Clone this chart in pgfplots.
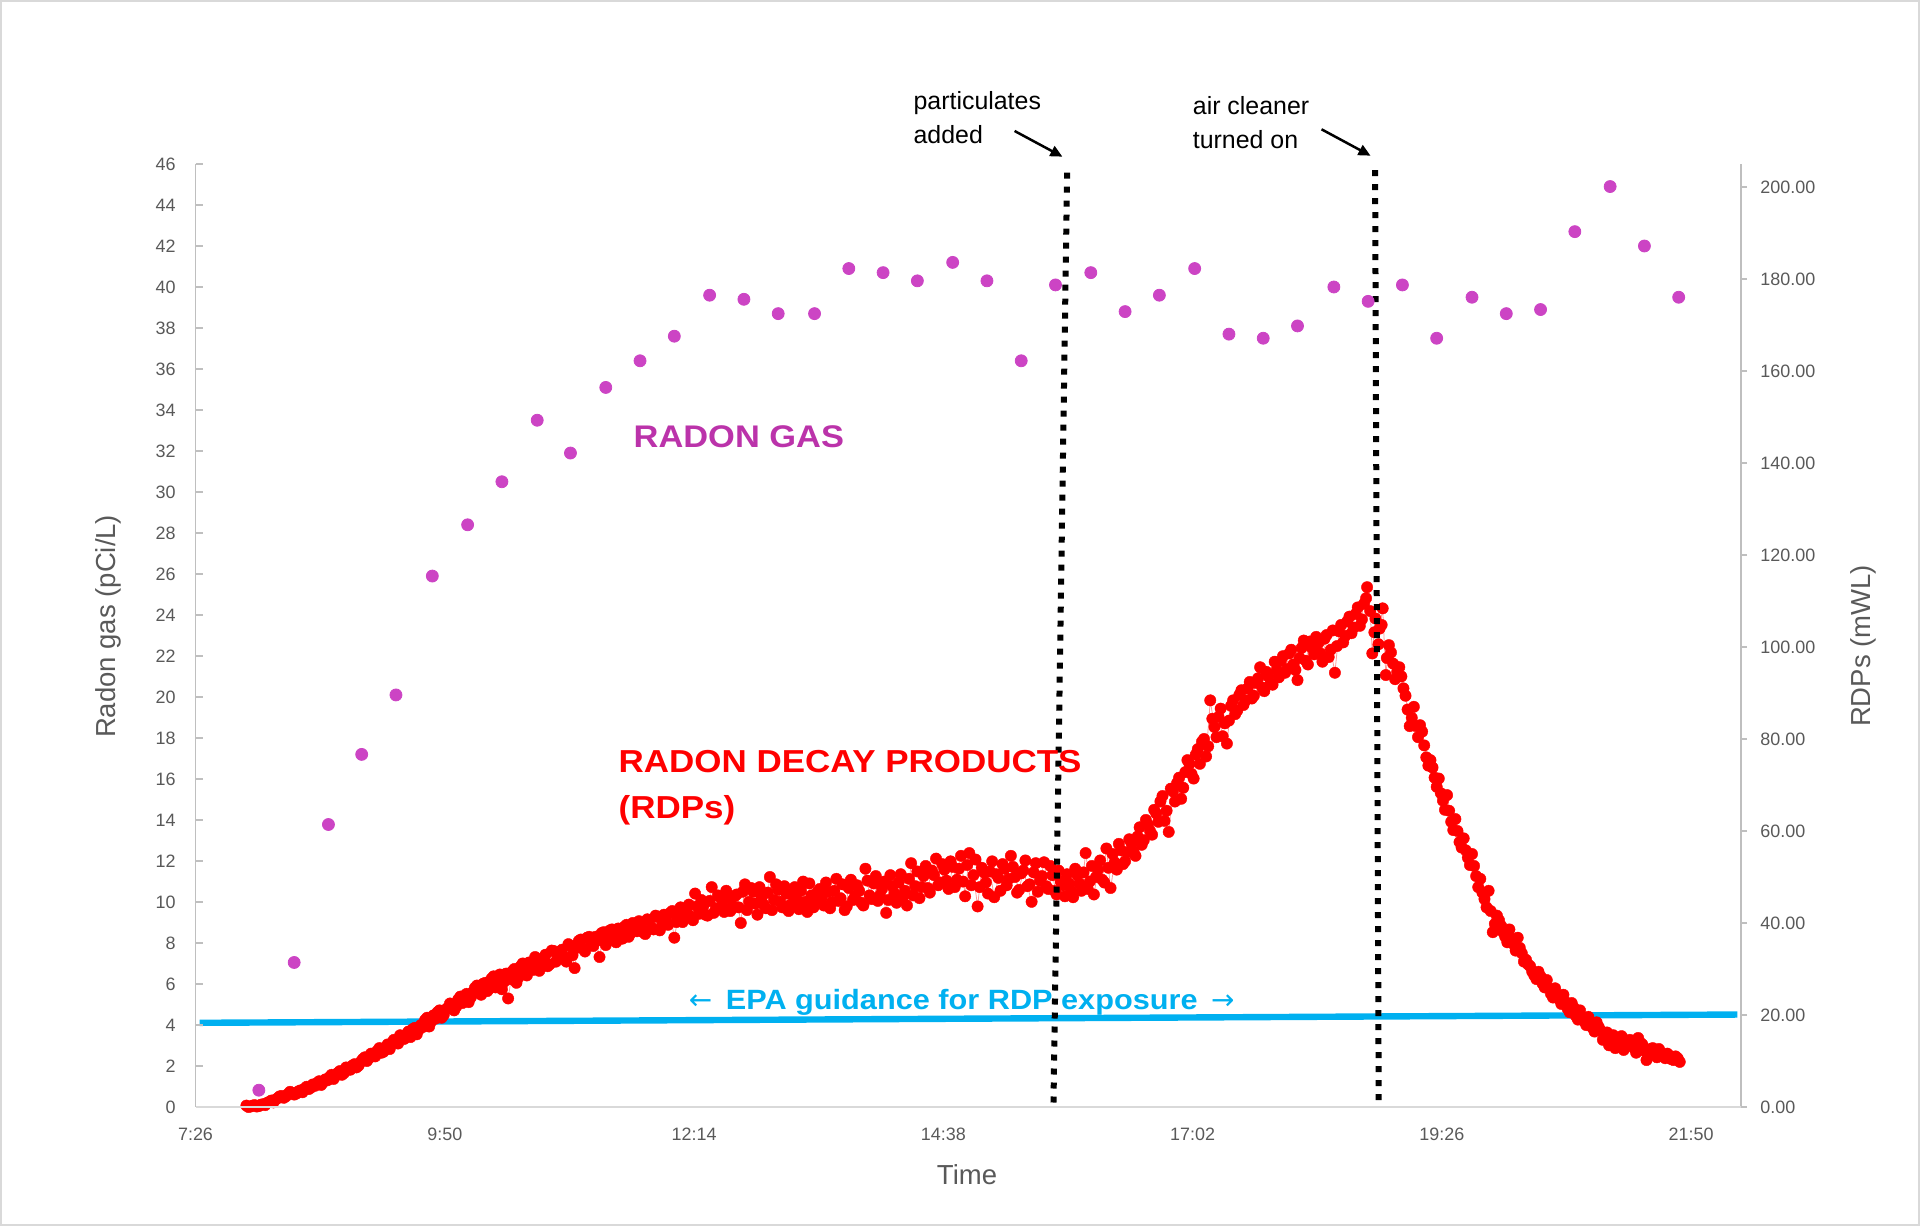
\documentclass[border=0pt]{standalone}
\usepackage{pgfplots}
\pgfplotsset{compat=1.18}
\usepackage{fontspec}
\setmainfont{Liberation Sans}
\newfontfamily\widefont[FakeStretch=1.1]{Liberation Sans}
\newfontfamily\arrowfont{DejaVu Sans}
\usetikzlibrary{arrows.meta}
\definecolor{labelgray}{HTML}{595959}
\definecolor{axgray}{HTML}{BFBFBF}
\definecolor{axgrayl}{HTML}{D9D9D9}
\definecolor{radon}{RGB}{204,68,196}
\definecolor{radontxt}{RGB}{187,51,170}
\definecolor{epa}{HTML}{00B0F0}
\definecolor{rdpline}{HTML}{FF9A9A}
\begin{document}
\begin{tikzpicture}
\useasboundingbox (0bp,0bp) rectangle (960bp,613bp);
\draw[axgrayl, line width=0.75bp] (0.5bp,0.5bp) rectangle (959.5bp,612.5bp);

\begin{axis}[name=rdp, at={(97.75bp,59.5bp)}, anchor=south west, scale only axis,
  width=772.75bp, height=471.5bp,
  xmin=7.44, xmax=22.32, ymin=0, ymax=205,
  axis x line=none, axis y line*=right,
  ytick={0,20,40,60,80,100,120,140,160,180,200},
  tick align=outside, major tick length=3bp,
  ytick style={draw=axgray, line width=0.75bp},
  y axis line style={draw=axgray, line width=0.75bp},
  /pgf/number format/assume math mode=true,
  yticklabel style={font=\fontsize{9}{10}\selectfont, color=labelgray, inner sep=0pt, xshift=6.5bp,
    /pgf/number format/fixed, /pgf/number format/fixed zerofill, /pgf/number format/precision=2},
]
% RDP readings, connected series
\addplot[color=rdpline, line width=0.4bp, mark=*, mark size=2.85bp,
  mark options={fill=red, draw=red, line width=0.2bp}] coordinates {
(7.93,0.3)(7.97,0.1)(8.01,0.4)(8.05,0.2)(8.09,0.6)(8.13,0.9)(8.17,1.4)(8.21,1.6)(8.25,2.3)(8.29,2.0)
(8.33,2.8)(8.37,3.1)(8.41,2.9)(8.45,3.6)(8.49,4.0)(8.53,3.9)(8.57,4.9)(8.61,5.2)(8.65,4.8)(8.69,6.0)
(8.73,6.5)(8.77,6.1)(8.81,7.4)(8.85,7.0)(8.89,8.6)(8.93,8.1)(8.97,9.3)(9.01,9.0)(9.05,10.4)(9.09,10.0)
(9.13,11.6)(9.17,11.0)(9.21,12.8)(9.25,12.0)(9.29,13.6)(9.33,13.9)(9.37,14.2)(9.41,15.6)(9.45,14.8)(9.49,16.4)
(9.53,16.9)(9.57,15.8)(9.61,17.8)(9.65,18.9)(9.69,17.5)(9.73,19.9)(9.77,20.6)(9.81,19.4)(9.85,21.2)(9.89,22.5)
(9.93,21.0)(9.97,23.4)(10.01,22.6)(10.05,24.6)(10.09,23.8)(10.13,25.9)(10.17,24.8)(10.21,26.8)(10.25,25.2)(10.29,27.9)
(10.33,26.0)(10.37,28.8)(10.41,27.2)(10.45,23.6)(10.49,29.5)(10.53,27.0)(10.57,30.6)(10.61,29.0)(10.65,31.4)(10.69,29.8)
(10.73,32.0)(10.77,30.6)(10.81,33.1)(10.85,31.0)(10.89,33.9)(10.93,32.4)(10.97,34.2)(11.01,31.6)(11.05,35.0)(11.09,30.2)
(11.13,36.1)(11.17,34.5)(11.21,36.8)(11.25,35.4)(11.29,37.0)(11.33,32.6)(11.37,38.0)(11.41,36.4)(11.45,38.6)(11.49,35.8)
(11.53,37.4)(11.57,39.2)(11.61,37.0)(11.65,40.0)(11.69,38.2)(11.73,39.8)(11.77,37.6)(11.81,40.5)(11.85,38.6)(11.89,41.3)
(11.93,39.4)(11.97,40.8)(12.01,42.2)(12.05,36.8)(12.09,41.6)(12.13,40.2)(12.17,43.0)(12.21,41.4)(12.25,46.4)(12.29,42.0)
(12.33,43.8)(12.37,41.6)(12.41,47.8)(12.45,43.2)(12.49,45.6)(12.53,42.4)(12.57,45.4)(12.61,43.6)(12.65,46.2)(12.69,40.0)
(12.73,48.4)(12.77,44.6)(12.81,46.8)(12.85,41.8)(12.89,45.6)(12.93,43.2)(12.97,50.0)(13.01,45.0)(13.05,47.2)(13.09,43.4)
(13.13,46.4)(13.17,44.0)(13.21,47.8)(13.25,43.0)(13.29,49.0)(13.33,42.4)(13.37,46.0)(13.41,44.2)(13.45,47.4)(13.49,43.8)
(13.53,46.8)(13.57,44.6)(13.61,49.6)(13.65,45.4)(13.69,42.8)(13.73,47.6)(13.77,45.0)(13.81,48.2)(13.85,44.4)(13.89,51.8)
(13.93,46.0)(13.97,48.6)(14.01,44.8)(14.05,47.4)(14.09,42.2)(14.13,50.4)(14.17,46.4)(14.21,48.8)(14.25,45.6)(14.29,43.8)
(14.33,53.0)(14.37,48.0)(14.41,45.4)(14.45,50.2)(14.49,47.6)(14.53,51.4)(14.57,54.0)(14.61,48.8)(14.65,51.6)(14.69,47.4)
(14.73,52.2)(14.77,49.4)(14.81,54.6)(14.85,45.8)(14.89,55.2)(14.93,50.4)(14.97,43.6)(15.01,52.0)(15.05,48.8)(15.09,51.2)
(15.13,45.6)(15.17,49.8)(15.21,52.8)(15.25,48.2)(15.29,54.6)(15.33,50.0)(15.37,47.2)(15.41,51.4)(15.45,48.0)(15.49,44.6)
(15.53,53.0)(15.57,49.2)(15.61,53.2)(15.65,47.4)(15.69,50.4)(15.73,46.2)(15.77,49.0)(15.81,45.8)(15.85,48.6)(15.89,45.6)
(15.93,50.4)(15.97,47.0)(16.01,55.2)(16.05,49.0)(16.09,46.2)(16.13,51.6)(16.17,49.4)(16.21,56.2)(16.25,47.6)(16.29,53.2)
(16.33,57.2)(16.37,52.8)(16.41,55.4)(16.45,57.4)(16.49,54.6)(16.53,60.8)(16.57,58.0)(16.61,61.4)(16.65,59.2)(16.69,63.8)
(16.73,66.4)(16.77,62.2)(16.81,59.8)(16.85,68.6)(16.89,70.4)(16.93,67.0)(16.97,72.8)(17.01,74.6)(17.05,71.4)(17.09,77.8)
(17.13,79.4)(17.17,76.2)(17.21,88.4)(17.25,82.6)(17.29,84.8)(17.33,80.6)(17.37,79.0)(17.41,87.2)(17.45,85.4)(17.49,89.6)
(17.53,87.4)(17.57,91.0)(17.61,88.8)(17.65,92.2)(17.69,95.6)(17.73,90.4)(17.77,93.6)(17.81,91.8)(17.85,95.0)(17.89,97.0)
(17.93,94.4)(17.97,98.6)(18.01,96.2)(18.05,92.8)(18.09,99.8)(18.13,97.0)(18.17,101.2)(18.21,98.4)(18.25,100.8)(18.29,96.8)
(18.33,102.6)(18.37,99.4)(18.41,94.4)(18.45,103.4)(18.49,101.0)(18.53,105.6)(18.57,103.0)(18.61,107.2)(18.65,104.6)(18.69,109.4)
(18.72,113.0)(18.75,107.8)(18.77,98.6)(18.80,106.2)(18.84,104.0)(18.87,108.4)(18.90,93.9)(18.93,100.4)(18.97,96.4)(19.01,94.6)
(19.05,93.6)(19.09,89.4)(19.13,82.8)(19.17,87.0)(19.21,80.4)(19.25,81.6)(19.29,76.0)(19.33,75.4)(19.37,71.6)(19.41,71.4)
(19.45,66.6)(19.49,67.8)(19.53,62.0)(19.57,62.6)(19.61,57.6)(19.65,58.4)(19.69,54.2)(19.73,55.0)(19.77,50.2)(19.81,49.6)
(19.85,45.2)(19.89,47.0)(19.93,38.0)(19.97,41.6)(20.01,39.4)(20.05,37.0)(20.09,38.6)(20.13,35.4)(20.17,36.8)(20.21,33.4)
(20.25,32.0)(20.29,30.6)(20.33,28.6)(20.37,29.4)(20.41,26.8)(20.45,27.6)(20.49,24.6)(20.53,25.8)(20.57,23.4)(20.61,24.4)
(20.65,21.4)(20.69,22.6)(20.73,19.8)(20.77,21.0)(20.81,18.6)(20.85,19.6)(20.89,17.2)(20.93,18.4)(20.97,16.6)(21.01,15.0)
(21.05,13.4)(21.09,15.6)(21.13,14.0)(21.17,15.4)(21.21,13.2)(21.25,14.6)(21.29,12.8)(21.33,15.0)(21.37,13.6)(21.41,10.2)
(21.45,12.6)(21.49,11.4)(21.53,12.6)(21.57,11.0)(21.61,11.6)(21.65,10.4)(21.69,11.0)(21.73,9.8)
};
% RDP readings in between
\addplot[only marks, mark=*, mark size=2.85bp,
  mark options={fill=red, draw=red, line width=0.2bp}] coordinates {
(7.95,0.0)(7.99,0.3)(8.03,0.1)(8.07,0.5)(8.11,0.4)(8.15,1.1)(8.19,1.0)(8.23,1.9)(8.27,2.4)(8.31,2.3)
(8.35,3.3)(8.39,2.7)(8.43,3.4)(8.47,3.2)(8.51,4.4)(8.55,4.2)(8.59,4.6)(8.63,5.6)(8.67,5.4)(8.71,5.8)
(8.75,7.0)(8.79,6.8)(8.83,7.8)(8.87,7.4)(8.91,8.2)(8.95,9.0)(8.99,8.6)(9.03,9.8)(9.07,10.8)(9.11,10.6)
(9.15,11.2)(9.19,12.2)(9.23,11.8)(9.27,13.0)(9.31,12.6)(9.35,14.6)(9.39,13.8)(9.43,15.2)(9.47,15.8)(9.51,15.2)
(9.55,17.2)(9.59,16.8)(9.63,17.4)(9.67,19.4)(9.71,18.6)(9.75,19.2)(9.79,21.0)(9.83,20.0)(9.87,21.6)(9.91,22.0)
(9.95,21.8)(9.99,24.0)
(10.03,24.2)(10.07,22.8)(10.11,25.0)(10.15,26.4)(10.19,24.4)(10.23,27.0)(10.27,25.8)(10.31,28.4)(10.35,27.2)(10.39,25.6)
(10.43,29.0)(10.47,27.8)(10.51,30.0)(10.55,28.2)(10.59,31.2)(10.63,28.6)(10.67,30.8)(10.71,32.6)(10.75,29.6)(10.79,32.4)
(10.83,30.6)(10.87,34.0)(10.91,31.6)(10.95,33.8)(10.99,32.6)(11.03,35.4)(11.07,33.0)(11.11,34.6)(11.15,36.4)(11.19,33.8)
(11.23,37.0)(11.27,35.0)(11.31,36.2)(11.35,37.8)(11.39,35.2)(11.43,38.4)(11.47,36.6)(11.51,38.8)(11.55,36.6)(11.59,39.6)
(11.63,37.8)(11.67,39.0)(11.71,40.4)(11.75,38.0)(11.79,40.8)(11.83,39.0)(11.87,41.6)(11.91,38.4)(11.95,41.8)(11.99,39.6)
(12.03,42.6)(12.07,40.2)(12.11,43.4)(12.15,41.0)(12.19,44.0)(12.23,40.6)(12.27,43.6)(12.31,45.0)(12.35,41.8)(12.39,44.8)
(12.43,42.2)(12.47,46.0)(12.51,43.8)(12.55,47.0)(12.59,42.6)(12.63,45.8)(12.67,43.4)(12.71,46.8)(12.75,42.8)(12.79,47.6)
(12.83,44.2)(12.87,47.8)(12.91,44.0)(12.95,46.6)(12.99,42.8)(13.03,48.4)(13.07,44.6)(13.11,48.0)(13.15,42.6)(13.19,46.2)
(13.23,45.0)(13.27,47.0)(13.31,44.6)(13.35,48.6)(13.39,43.4)(13.43,46.8)(13.47,45.6)(13.51,48.8)(13.55,43.2)(13.59,47.0)
(13.63,44.8)(13.67,48.4)(13.71,43.6)(13.75,49.4)(13.79,45.8)(13.83,47.0)(13.87,43.8)(13.91,49.2)(13.95,45.2)(13.99,50.2)
(14.03,46.0)(14.07,49.0)(14.11,45.0)(14.15,48.0)(14.19,44.4)(14.23,50.6)(14.27,47.0)(14.31,49.6)(14.35,46.0)(14.39,51.2)
(14.43,47.8)(14.47,52.4)(14.51,46.6)(14.55,50.4)(14.59,48.2)(14.63,52.8)(14.67,49.2)(14.71,53.4)(14.75,47.8)(14.79,51.8)
(14.83,49.0)(14.87,52.6)(14.91,48.2)(14.95,53.8)(14.99,47.8)(15.03,51.0)(15.07,46.4)(15.11,53.4)(15.15,50.6)(15.19,47.0)
(15.23,51.8)(15.27,49.6)(15.31,52.2)(15.35,46.6)(15.39,50.8)(15.43,53.6)(15.47,48.4)(15.51,51.0)(15.55,46.8)(15.59,50.2)
(15.63,48.0)(15.67,52.4)(15.71,47.0)(15.75,51.4)(15.79,48.2)(15.83,50.6)(15.87,47.0)(15.91,51.8)(15.95,48.6)(15.99,51.0)
(16.03,47.4)(16.07,52.4)(16.11,50.0)(16.15,53.6)(16.19,48.8)(16.23,52.0)(16.27,55.0)(16.31,51.6)(16.35,55.8)(16.39,53.4)
(16.43,58.2)(16.47,55.6)(16.51,58.8)(16.55,57.0)(16.59,62.4)(16.63,60.0)(16.67,64.6)(16.71,62.0)(16.75,67.6)(16.79,64.4)
(16.83,69.2)(16.87,66.4)(16.91,71.6)(16.95,69.4)(16.99,75.4)(17.03,72.4)(17.07,76.6)(17.11,74.6)(17.15,80.0)(17.19,78.4)
(17.23,84.4)(17.27,80.4)(17.31,86.6)(17.35,83.4)(17.39,84.0)(17.43,88.4)(17.47,86.2)(17.51,90.6)(17.55,88.4)(17.59,92.4)
(17.63,89.4)(17.67,93.2)(17.71,91.2)(17.75,94.6)(17.79,92.0)(17.83,96.8)(17.87,93.4)(17.91,98.0)(17.95,95.2)(17.99,99.4)
(18.03,95.0)(18.07,97.6)(18.11,101.4)(18.15,96.2)(18.19,99.8)(18.23,102.2)(18.27,98.6)(18.31,101.8)(18.35,97.8)(18.39,103.6)
(18.43,100.2)(18.47,104.8)(18.51,102.4)(18.55,106.6)(18.59,104.2)(18.63,108.6)(18.67,106.0)(18.71,110.6)
(18.79,103.2)(18.83,100.6)(18.86,104.8)(18.91,97.6)(18.95,98.8)(18.99,93.0)(19.03,95.6)(19.07,91.0)(19.11,86.4)(19.15,84.6)
(19.19,82.8)(19.23,83.0)(19.27,78.6)(19.31,74.2)(19.35,73.8)(19.39,69.6)(19.43,68.2)(19.47,64.6)(19.51,64.4)(19.55,60.2)
(19.59,60.0)(19.63,56.4)(19.67,55.8)(19.71,52.6)(19.75,52.4)(19.79,47.8)(19.83,46.6)(19.87,43.4)(19.91,42.6)(19.95,39.8)
(19.99,40.6)(20.03,38.0)(20.07,35.8)(20.11,36.6)(20.15,34.0)(20.19,34.6)(20.23,31.6)(20.27,31.0)(20.31,29.4)(20.35,27.8)
(20.39,28.4)(20.43,26.0)(20.47,25.8)(20.51,23.8)(20.55,24.2)(20.59,22.4)(20.63,22.8)(20.67,20.6)(20.71,21.6)(20.75,19.0)
(20.79,19.4)(20.83,17.8)(20.87,18.6)(20.91,16.4)(20.95,17.4)(20.99,14.6)(21.03,16.2)(21.07,14.2)(21.11,12.8)(21.15,14.8)
(21.19,12.4)(21.23,13.8)(21.27,13.4)(21.31,11.8)(21.35,14.0)(21.39,12.2)(21.43,11.6)(21.47,12.8)(21.51,10.8)(21.55,11.8)
(21.59,10.6)(21.63,11.2)(21.67,10.2)(21.71,10.6)
};
\addplot[color=epa, line width=3.2bp, no marks] coordinates {(7.48,18.3) (22.285,20.1)};
\end{axis}

\begin{axis}[at={(97.75bp,59.5bp)}, anchor=south west, scale only axis,
  width=772.75bp, height=471.5bp,
  xmin=7.44, xmax=22.32, ymin=0, ymax=46,
  axis x line*=bottom, axis y line*=left,
  ytick={0,2,4,6,8,10,12,14,16,18,20,22,24,26,28,30,32,34,36,38,40,42,44,46},
  xtick={7.44,9.84,12.24,14.64,17.04,19.44,21.84},
  xticklabels={7:26,9:50,12:14,14:38,17:02,19:26,21:50},
  tick align=inside, major tick length=3.5bp,
  xtick style={draw=none},
  ytick style={draw=axgray, line width=0.75bp},
  y axis line style={draw=axgray, line width=0.75bp},
  x axis line style={draw=axgrayl, line width=0.75bp},
  /pgf/number format/assume math mode=true,
  ticklabel style={font=\fontsize{9}{10}\selectfont, color=labelgray, inner sep=0pt},
  yticklabel style={xshift=-9.75bp},
  xticklabel style={yshift=-10.25bp},
]
\addplot[only marks, mark=*, mark size=3bp, color=radon, mark options={fill=radon, draw=radon}] coordinates {
(8.05,0.82)(8.39,7.05)(8.72,13.78)(9.04,17.2)(9.37,20.1)(9.72,25.9)(10.06,28.4)(10.39,30.5)(10.73,33.5)(11.05,31.9)
(11.39,35.1)(11.72,36.4)(12.05,37.6)(12.39,39.6)(12.72,39.4)(13.05,38.7)(13.40,38.7)(13.73,40.9)(14.06,40.7)(14.39,40.3)
(14.73,41.2)(15.06,40.3)(15.39,36.4)(15.72,40.1)(16.06,40.7)(16.39,38.8)(16.72,39.6)(17.06,40.9)(17.39,37.7)(17.72,37.5)
(18.05,38.1)(18.40,40.0)(18.73,39.3)(19.06,40.1)(19.39,37.5)(19.73,39.5)(20.06,38.7)(20.39,38.9)(20.72,42.7)(21.06,44.9)
(21.39,42.0)(21.72,39.5)
};
\draw[black, line width=3bp, dash pattern=on 3bp off 4bp] (axis cs:15.832,45.58) -- (axis cs:15.70,0);
\draw[black, line width=3bp, dash pattern=on 3bp off 4bp] (axis cs:18.797,45.7) -- (axis cs:18.832,0);
\end{axis}

% annotations
\begin{scope}[every node/.style={inner sep=0pt, anchor=base west, font=\fontsize{12.5}{15}\selectfont}]
\node at (456.6bp,558.3bp) {particulates};
\node at (456.6bp,541.3bp) {added};
\node at (596.25bp,555.5bp) {air cleaner};
\node at (596.25bp,538.8bp) {turned on};
\end{scope}
\draw[line width=1.25bp, -{Triangle[length=6bp,width=5.5bp]}] (507.3bp,547.5bp) -- (531.2bp,534.65bp);
\draw[line width=1.25bp, -{Triangle[length=6bp,width=5.5bp]}] (660.75bp,548.35bp) -- (685.25bp,535.15bp);

\node[anchor=base west, inner sep=0pt, text=radontxt, font=\widefont\bfseries\fontsize{15.7}{18}\selectfont] at (316.65bp,389.35bp) {RADON GAS};
\node[anchor=base west, inner sep=0pt, text=red, font=\widefont\bfseries\fontsize{15.95}{18}\selectfont] at (309.15bp,226.65bp) {RADON DECAY PRODUCTS};
\node[anchor=base west, inner sep=0pt, text=red, font=\widefont\bfseries\fontsize{15.95}{18}\selectfont] at (309.15bp,203.85bp) {(RDPs)};
\node[anchor=base west, inner sep=0pt, text=epa, font=\widefont\bfseries\fontsize{14}{16}\selectfont] at (344.25bp,108bp) {{\arrowfont\mdseries ←}\hspace{6.8bp}EPA guidance for RDP exposure\hspace{6.8bp}{\arrowfont\mdseries →}};

% axis titles
\node[rotate=90, inner sep=0pt, text=labelgray, font=\fontsize{13.8}{16}\selectfont] at (54.2bp,299.8bp) {Radon gas (pCi/L)};
\node[rotate=90, inner sep=0pt, text=labelgray, font=\fontsize{13.8}{16}\selectfont] at (931.5bp,290bp) {RDPs (mWL)};
\node[anchor=base, inner sep=0pt, text=labelgray, font=\fontsize{13.8}{16}\selectfont] at (483.5bp,21bp) {Time};
\end{tikzpicture}
\end{document}
